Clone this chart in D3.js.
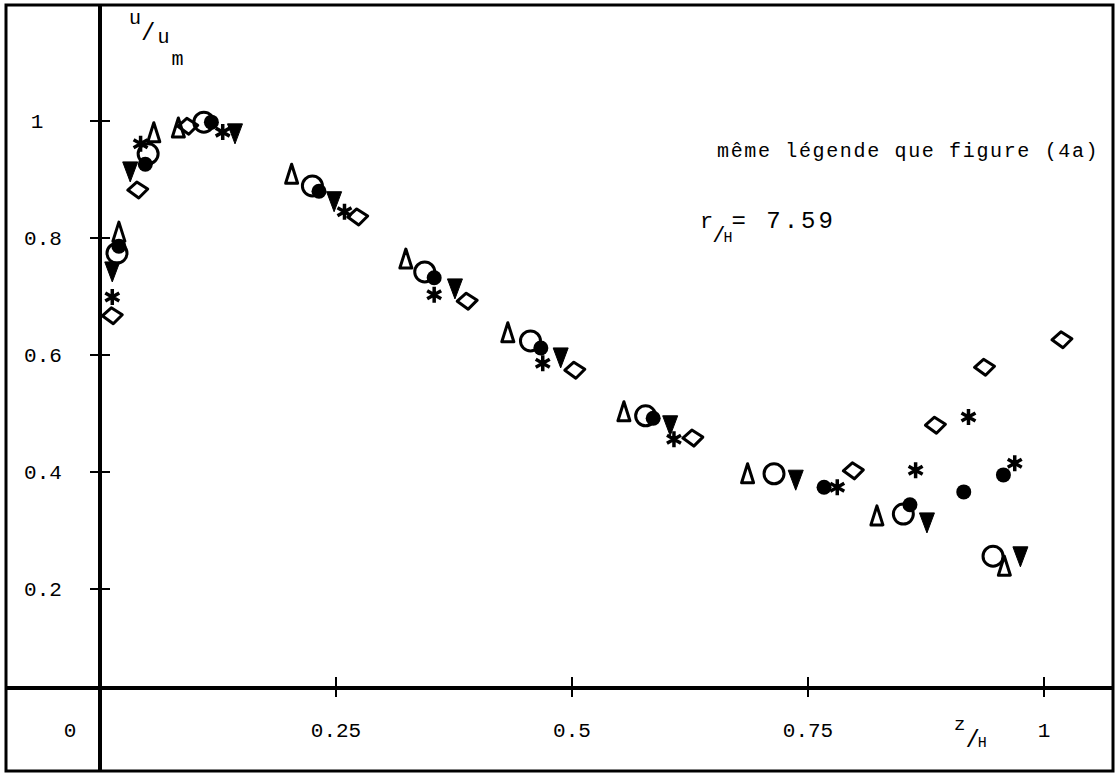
<!DOCTYPE html>
<html>
<head>
<meta charset="utf-8">
<script src="https://cdn.jsdelivr.net/npm/d3@7"></script>
<style>
  body { margin: 0; background: #fff; }
  text { font-family: "Liberation Mono", "DejaVu Sans Mono", monospace; fill: #000; }
</style>
</head>
<body>
<div id="wrapper"></div>
<script>
// data (z/H, u/um)
const openTriZ = [0.020, 0.057, 0.083, 0.203, 0.324, 0.432, 0.555, 0.686, 0.823, 0.958]
const openTriU = [0.810, 0.980, 0.988, 0.909, 0.764, 0.638, 0.503, 0.397, 0.325, 0.239]

const openCircleZ = [0.018, 0.051, 0.110, 0.225, 0.344, 0.456, 0.578, 0.714, 0.851, 0.946]
const openCircleU = [0.774, 0.944, 0.998, 0.889, 0.742, 0.624, 0.496, 0.397, 0.328, 0.256]

const dotZ = [0.020, 0.048, 0.118, 0.232, 0.354, 0.467, 0.586, 0.767, 0.858, 0.915, 0.957]
const dotU = [0.786, 0.926, 0.998, 0.880, 0.732, 0.612, 0.492, 0.374, 0.344, 0.366, 0.395]

const downTriZ = [0.013, 0.032, 0.143, 0.248, 0.376, 0.488, 0.604, 0.737, 0.876, 0.975]
const downTriU = [0.742, 0.913, 0.978, 0.862, 0.713, 0.595, 0.479, 0.386, 0.313, 0.255]

const starZ = [0.013, 0.043, 0.130, 0.259, 0.354, 0.469, 0.608, 0.781, 0.864, 0.920, 0.969]
const starU = [0.699, 0.961, 0.981, 0.845, 0.703, 0.586, 0.456, 0.374, 0.403, 0.494, 0.415]

const diamondZ = [0.013, 0.040, 0.093, 0.273, 0.389, 0.503, 0.628, 0.798, 0.885, 0.937, 1.019]
const diamondU = [0.667, 0.882, 0.991, 0.836, 0.692, 0.574, 0.458, 0.402, 0.480, 0.579, 0.626]

const yTicks = [0.2, 0.4, 0.6, 0.8, 1]
const yTickLabels = ["0.2", "0.4", "0.6", "0.8", "1"]
const xTicks = [0.25, 0.5, 0.75, 1]
const xTickLabels = ["0.25", "0.5", "0.75", "1"]

function drawChart() {
  const width = 1118
  const height = 776
  const axisY = 688   // the drawn z axis sits a little above u = 0 in the original

  const svg = d3.select("#wrapper")
    .append("svg")
      .attr("width", width)
      .attr("height", height)

  const xScale = d3.scaleLinear()
    .domain([0, 1])
    .range([100, 1044])

  const yScale = d3.scaleLinear()
    .domain([0, 1])
    .range([706, 121])

  // outer frame
  svg.append("rect")
    .attr("x", 6)
    .attr("y", 5)
    .attr("width", 1107)
    .attr("height", 766)
    .attr("fill", "none")
    .attr("stroke", "#000")
    .attr("stroke-width", 3)

  // axes
  svg.append("line")
    .attr("x1", xScale(0)).attr("x2", xScale(0))
    .attr("y1", 5).attr("y2", 771)
    .attr("stroke", "#000").attr("stroke-width", 4)

  svg.append("line")
    .attr("x1", 6).attr("x2", 1113)
    .attr("y1", axisY).attr("y2", axisY)
    .attr("stroke", "#000").attr("stroke-width", 4)

  // y ticks cross the axis
  svg.selectAll(".ytick")
    .data(yTicks)
    .enter().append("line")
      .attr("x1", xScale(0) - 10)
      .attr("x2", xScale(0) + 10)
      .attr("y1", d => yScale(d))
      .attr("y2", d => yScale(d))
      .attr("stroke", "#000")
      .attr("stroke-width", 2)

  svg.selectAll(".ylabel")
    .data(yTicks)
    .enter().append("text")
      .attr("x", (d, i) => yTickLabels[i].length > 1 ? 43 : 37)
      .attr("y", d => yScale(d) + 7)
      .attr("text-anchor", "middle")
      .style("font-size", "21px")
      .text((d, i) => yTickLabels[i])

  svg.selectAll(".xtick")
    .data(xTicks)
    .enter().append("line")
      .attr("x1", d => xScale(d))
      .attr("x2", d => xScale(d))
      .attr("y1", axisY - 11)
      .attr("y2", axisY + 9)
      .attr("stroke", "#000")
      .attr("stroke-width", 2)

  svg.selectAll(".xlabel")
    .data(xTicks)
    .enter().append("text")
      .attr("x", d => xScale(d))
      .attr("y", 737)
      .attr("text-anchor", "middle")
      .style("font-size", "21px")
      .text((d, i) => xTickLabels[i])

  svg.append("text")
    .attr("x", 70).attr("y", 737)
    .attr("text-anchor", "middle")
    .style("font-size", "21px")
    .text("0")

  // axis titles
  const yTitle = svg.append("text").attr("x", 129).attr("y", 24).style("font-size", "20px")
  yTitle.append("tspan").text("u")
  yTitle.append("tspan").attr("dy", 16).style("font-size", "24px").text("/")
  yTitle.append("tspan").attr("dy", 3).attr("dx", 2).text("u")
  yTitle.append("tspan").attr("dy", 22).attr("dx", 2).style("font-size", "20px").text("m")

  const xTitle = svg.append("text").attr("x", 954).attr("y", 730).style("font-size", "19px")
  xTitle.append("tspan").text("z")
  xTitle.append("tspan").attr("dy", 17).style("font-size", "24px").text("/")
  xTitle.append("tspan").attr("dx", -2).style("font-size", "15px").text("H")

  // annotations
  svg.append("text")
    .attr("x", 717).attr("y", 157)
    .style("font-size", "20px")
    .style("letter-spacing", "1.65px")
    .text("même légende que figure (4a)")

  const rText = svg.append("text").attr("x", 700).attr("y", 228).style("font-size", "22px")
  rText.append("tspan").text("r")
  rText.append("tspan").attr("dy", 14).attr("dx", -1).style("font-size", "22px").text("/")
  rText.append("tspan").attr("dx", -2).style("font-size", "15px").text("H")
  rText.append("tspan").attr("dy", -14).attr("dx", -1).style("font-size", "24px").style("letter-spacing", "3px").text("= 7.59")

  // marker shapes
  const openTri = "M0,-10L6,9L-6,9Z"
  const downTri = "M-7.5,-10L7.5,-10L0,10Z"
  const diamond = "M-10,0L-1,-8L10,-1L1,8Z"
  const star = "M0,-8L0,8M-7,-4L7,4M-7,4L7,-4"

  function drawSeries(zs, us, shape, filled, strokeWidth) {
    svg.append("g")
      .selectAll("path")
      .data(zs.map((z, i) => [z, us[i]]))
      .enter().append("path")
        .attr("transform", d => `translate(${xScale(d[0])},${yScale(d[1])})`)
        .attr("d", shape)
        .attr("fill", filled ? "#000" : "none")
        .attr("stroke", "#000")
        .attr("stroke-width", strokeWidth)
        .attr("stroke-linejoin", "round")
  }

  drawSeries(diamondZ, diamondU, diamond, false, 3)
  drawSeries(starZ, starU, star, false, 3.5)
  drawSeries(downTriZ, downTriU, downTri, true, 1)
  drawSeries(openTriZ, openTriU, openTri, false, 3)

  svg.append("g")
    .selectAll("circle")
    .data(openCircleZ.map((z, i) => [z, openCircleU[i]]))
    .enter().append("circle")
      .attr("cx", d => xScale(d[0]))
      .attr("cy", d => yScale(d[1]))
      .attr("r", 10)
      .attr("fill", "none")
      .attr("stroke", "#000")
      .attr("stroke-width", 3)

  svg.append("g")
    .selectAll("circle")
    .data(dotZ.map((z, i) => [z, dotU[i]]))
    .enter().append("circle")
      .attr("cx", d => xScale(d[0]))
      .attr("cy", d => yScale(d[1]))
      .attr("r", 7.5)
      .attr("fill", "#000")
}
drawChart()
</script>
</body>
</html>
